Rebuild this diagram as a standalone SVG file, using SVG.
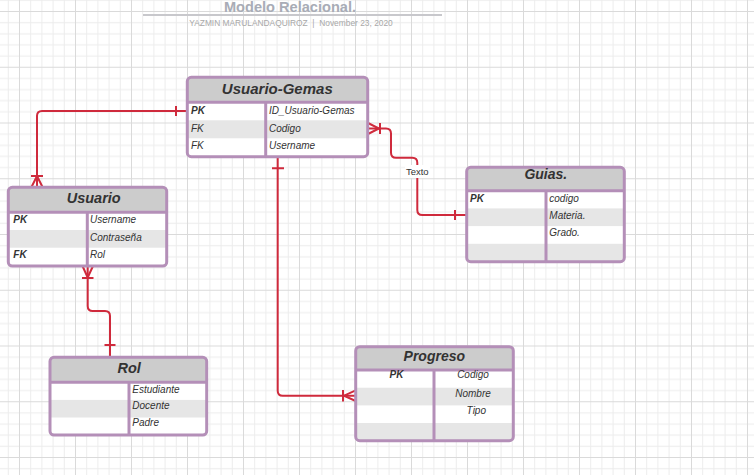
<svg xmlns="http://www.w3.org/2000/svg" width="754" height="475" viewBox="0 0 754 475">
<defs>
<pattern id="grid" patternUnits="userSpaceOnUse" x="19" y="11" width="56" height="55.75">
<g stroke="#ececec" stroke-width="1">
<line x1="11.7" y1="0" x2="11.7" y2="56"/><line x1="22.9" y1="0" x2="22.9" y2="56"/><line x1="34.1" y1="0" x2="34.1" y2="56"/><line x1="45.3" y1="0" x2="45.3" y2="56"/>
<line x1="0" y1="11.65" x2="56" y2="11.65"/><line x1="0" y1="22.8" x2="56" y2="22.8"/><line x1="0" y1="33.95" x2="56" y2="33.95"/><line x1="0" y1="45.1" x2="56" y2="45.1"/>
</g>
<g stroke="#dadada" stroke-width="1"><line x1="0.5" y1="0" x2="0.5" y2="56"/><line x1="0" y1="0.5" x2="56" y2="0.5"/></g>
</pattern>
<style>
.hdr{fill:#cccccc}
.alt{fill:#e6e6e6}
.bg{fill:#ffffff}
.bd{fill:none;stroke:#b48fb8;stroke-width:3}
.ln{stroke:#b48fb8;stroke-width:3}
.ht{font-family:"Liberation Sans",Arial,sans-serif;font-weight:bold;font-style:italic;fill:#333333;text-anchor:middle}
.rt{font-family:"Liberation Sans",Arial,sans-serif;font-style:italic;font-size:10px;fill:#333333}
.b{font-weight:bold}
.c{text-anchor:middle}
.cn{fill:none;stroke:#cf2a3c;stroke-width:2}
</style>
</defs>
<rect width="754" height="475" fill="#ffffff"/>
<rect width="754" height="475" fill="url(#grid)"/>
<g id="title">
<text x="290" y="11.5" font-family="Liberation Sans,Arial,sans-serif" font-weight="bold" font-size="14.6" fill="#a8acb6" text-anchor="middle">Modelo Relacional.</text>
<rect x="143" y="14" width="299" height="2" fill="#c8c8cc"/>
<text x="291" y="26" font-family="Liberation Sans,Arial,sans-serif" font-size="8.4" fill="#a8a8a8" text-anchor="middle" xml:space="preserve">YAZMIN MARULANDAQUIROZ  |  November 23, 2020</text>
</g>
<g id="connectors">
<path class="cn" d="M187,111 H42 Q37,111 37,116 V187"/>
<path class="cn" d="M176,106 V116 M31,176 H43 M37,176 L31.5,187 M37,176 L42.5,187"/>
<path class="cn" d="M368,128.5 H386 Q391,128.5 391,133.5 V152.7 Q391,157.7 396,157.7 H412.3 Q417.3,157.7 417.3,162.7 V210 Q417.3,215 422.3,215 H467"/>
<path class="cn" d="M368,123 L379,128.5 L368,134 M380,123 V134 M455,210 V220"/>
<rect x="405" y="165" width="25" height="13" fill="#ffffff"/>
<text x="417.3" y="175" font-family="Liberation Sans,Arial,sans-serif" font-size="9.5" fill="#333333" text-anchor="middle">Texto</text>
<path class="cn" d="M277.7,157 V390.7 Q277.7,395.7 282.7,395.7 H355.7"/>
<path class="cn" d="M272,168.3 H284 M355.7,390.3 L344,395.7 L355.7,401 M343,390 V401.5"/>
<path class="cn" d="M87.7,266 V306 Q87.7,311 92.7,311 H105 Q110,311 110,316 V357.3"/>
<path class="cn" d="M82.5,266 L87.7,277.5 L93,266 M82,278 H93.5 M104.5,345 H115.5"/>
</g>
<g id="usuario-gemas">
<rect class="bg" x="187.3" y="77.3" width="180.4" height="79.4"/>
<rect class="hdr" x="187.3" y="77.3" width="180.4" height="25"/>
<rect class="alt" x="187.3" y="120.3" width="180.4" height="18"/>
<line class="ln" x1="187.3" y1="102.3" x2="367.7" y2="102.3"/>
<line class="ln" x1="265.7" y1="102.3" x2="265.7" y2="156.7"/>
<rect class="bd" x="187.3" y="77.3" width="180.4" height="79.4" rx="4"/>
<text class="ht" x="277.3" y="94.3" font-size="15">Usuario-Gemas</text>
<text class="rt b" x="191" y="114.3">PK</text>
<text class="rt" x="191" y="131.5">FK</text>
<text class="rt" x="191" y="149">FK</text>
<text class="rt" x="269" y="114.3">ID_Usuario-Gemas</text>
<text class="rt" x="269" y="131.5">Codigo</text>
<text class="rt" x="269" y="149">Username</text>
</g>
<g id="usuario">
<rect class="bg" x="8.3" y="187.3" width="158.4" height="78.7"/>
<rect class="hdr" x="8.3" y="187.3" width="158.4" height="25"/>
<rect class="alt" x="8.3" y="230" width="158.4" height="17.7"/>
<line class="ln" x1="8.3" y1="212.3" x2="166.7" y2="212.3"/>
<line class="ln" x1="87.3" y1="212.3" x2="87.3" y2="266"/>
<rect class="bd" x="8.3" y="187.3" width="158.4" height="78.7" rx="4"/>
<text class="ht" x="93.7" y="202.7" font-size="14.5">Usuario</text>
<text class="rt b" x="13.3" y="222.7">PK</text>
<text class="rt b" x="13.3" y="258.3">FK</text>
<text class="rt" x="90" y="222.7">Username</text>
<text class="rt" x="90" y="240.7">Contraseña</text>
<text class="rt" x="90" y="258.3">Rol</text>
</g>
<g id="guias">
<rect class="bg" x="466.7" y="167.3" width="157.6" height="94.4"/>
<rect class="hdr" x="466.7" y="167.3" width="157.6" height="23.4"/>
<rect class="alt" x="466.7" y="208.4" width="157.6" height="17.7"/>
<rect class="alt" x="466.7" y="243.8" width="157.6" height="17.9"/>
<line class="ln" x1="466.7" y1="190.7" x2="624.3" y2="190.7"/>
<line class="ln" x1="546" y1="190.7" x2="546" y2="261.7"/>
<rect class="bd" x="466.7" y="167.3" width="157.6" height="94.4" rx="4"/>
<text class="ht" x="545.8" y="179.3" font-size="14">Guias.</text>
<text class="rt b" x="470" y="201.7">PK</text>
<text class="rt" x="549.3" y="201.7">codigo</text>
<text class="rt" x="549.3" y="219.3">Materia.</text>
<text class="rt" x="549.3" y="236">Grado.</text>
</g>
<g id="rol">
<rect class="bg" x="50" y="357.3" width="156.7" height="77.7"/>
<rect class="hdr" x="50" y="357.3" width="156.7" height="25"/>
<rect class="alt" x="50" y="399.9" width="156.7" height="17.6"/>
<line class="ln" x1="50" y1="382.3" x2="206.7" y2="382.3"/>
<line class="ln" x1="129" y1="382.3" x2="129" y2="435"/>
<rect class="bd" x="50" y="357.3" width="156.7" height="77.7" rx="4"/>
<text class="ht" x="129.2" y="372.7" font-size="14.5">Rol</text>
<text class="rt" x="132.3" y="392.7">Estudiante</text>
<text class="rt" x="132.3" y="409.3">Docente</text>
<text class="rt" x="132.3" y="426">Padre</text>
</g>
<g id="progreso">
<rect class="bg" x="355.7" y="346.7" width="157.6" height="94"/>
<rect class="hdr" x="355.7" y="346.7" width="157.6" height="23.3"/>
<rect class="alt" x="355.7" y="387.7" width="157.6" height="17.7"/>
<rect class="alt" x="355.7" y="423" width="157.6" height="17.7"/>
<line class="ln" x1="355.7" y1="370" x2="513.3" y2="370"/>
<line class="ln" x1="434" y1="370" x2="434" y2="440.7"/>
<rect class="bd" x="355.7" y="346.7" width="157.6" height="94" rx="4"/>
<text class="ht" x="434.3" y="360.7" font-size="14">Progreso</text>
<text class="rt b c" x="396.5" y="378.3">PK</text>
<text class="rt c" x="473" y="378.3">Codigo</text>
<text class="rt c" x="473" y="396.7">Nombre</text>
<text class="rt c" x="476.3" y="414">Tipo</text>
</g>
</svg>
